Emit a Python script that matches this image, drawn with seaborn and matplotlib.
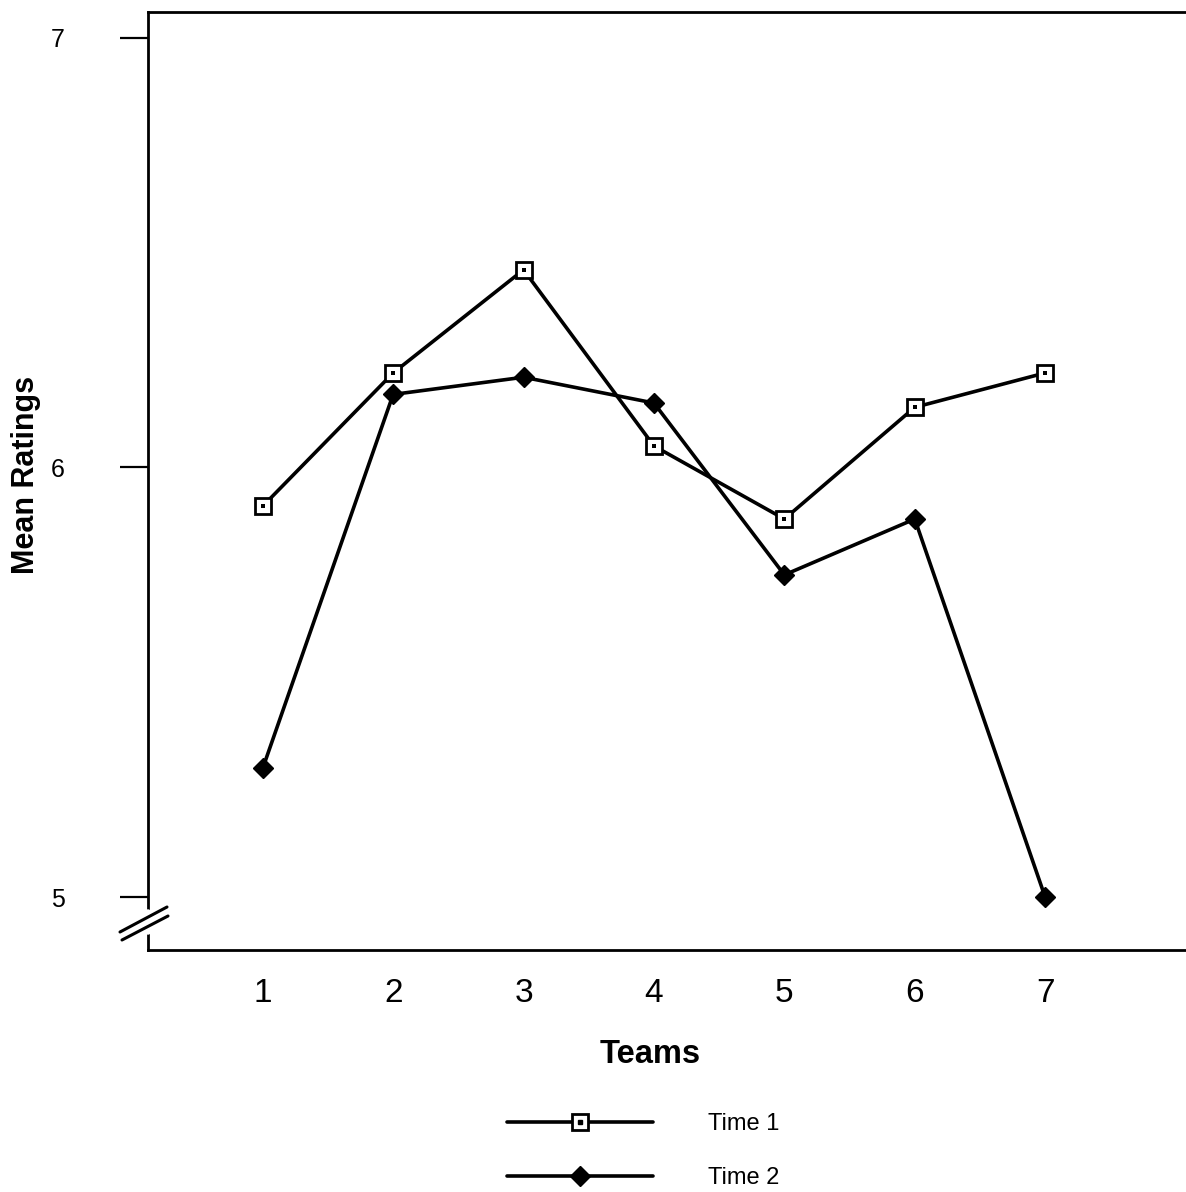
import numpy as np
import pandas as pd
import seaborn as sns
import matplotlib.pyplot as plt
from matplotlib.lines import Line2D

teams = [1, 2, 3, 4, 5, 6, 7]
time1 = [5.91, 6.22, 6.46, 6.05, 5.88, 6.14, 6.22]
time2 = [5.30, 6.17, 6.21, 6.15, 5.75, 5.88, 5.00]
y_ticks = [5, 6, 7]
labels = ["Time 1", "Time 2"]

sns.set_theme(style="white")
plt.rcParams["font.family"] = ["Liberation Sans", "DejaVu Sans"]
plt.rcParams["text.color"] = "black"
plt.rcParams["axes.labelcolor"] = "black"
plt.rcParams["xtick.color"] = "black"
plt.rcParams["ytick.color"] = "black"

fig = plt.figure(figsize=(11.86, 11.92), dpi=100)
ax = fig.add_axes([148 / 1186, 242 / 1192, 1038 / 1186, 938 / 1192])

lw = 2.6
sns.lineplot(x=teams, y=time1, ax=ax, color="black", linewidth=lw,
             marker="s", markersize=11, markerfacecolor="white",
             markeredgecolor="black", markeredgewidth=2.0, zorder=3)
sns.scatterplot(x=teams, y=time1, ax=ax, marker="s", s=6, color="black",
                linewidth=0, zorder=4)
sns.lineplot(x=teams, y=time2, ax=ax, color="black", linewidth=lw,
             marker="D", markersize=10, markerfacecolor="black",
             markeredgecolor="black", markeredgewidth=1.0, zorder=3)

ax.set_xlim(0.12, 8.08)
ax.set_ylim(4.877, 7.06)
ax.set_xticks(teams)
ax.set_xticklabels([str(t) for t in teams], fontsize=24)
ax.set_yticks(y_ticks)
ax.set_yticklabels([str(t) for t in y_ticks], fontsize=18)
ax.tick_params(axis="x", length=0, pad=20, labelcolor="black")
ax.tick_params(axis="y", length=20, width=1.6, color="black", pad=40,
               direction="out", left=True, labelcolor="black")

for s in ["left", "top", "bottom"]:
    ax.spines[s].set_color("black")
    ax.spines[s].set_linewidth(2.0)
ax.spines["right"].set_visible(False)

fx = lambda px: (px - 148) / 1038
fy = lambda py: (950 - py) / 938

ax.set_xlabel("Teams", fontsize=23.5, fontweight="bold", labelpad=22,
              color="black")
ax.set_ylabel("Mean Ratings", fontsize=22, fontweight="bold", labelpad=7,
              color="black")
ax.xaxis.label.set_x(fx(650))
ax.yaxis.label.set_y(fy(475))

# axis break marks
ax.plot([0, 0], [fy(932), fy(912)], transform=ax.transAxes, color="white",
        linewidth=4, clip_on=False, zorder=5)
ax.plot([fx(120), fx(167)], [fy(932), fy(907)], transform=ax.transAxes,
        color="black", linewidth=2.2, clip_on=False, zorder=6)
ax.plot([fx(122), fx(168)], [fy(940), fy(916)], transform=ax.transAxes,
        color="black", linewidth=2.2, clip_on=False, zorder=6)

h1 = Line2D([], [], color="black", linewidth=lw, marker="s", markersize=11,
            markerfacecolor="white", markeredgecolor="black", markeredgewidth=2.0)
h1dot = Line2D([], [], linestyle="none", marker="s", markersize=2.2, color="black")
h2 = Line2D([], [], color="black", linewidth=lw, marker="D", markersize=10,
            markerfacecolor="black", markeredgecolor="black")
fig.legend([(h1, h1dot), h2], labels, loc="upper left",
           bbox_to_anchor=(507 / 1186, 1 - 1113 / 1192), frameon=False,
           fontsize=17, handlelength=6.2, handletextpad=2.3, labelspacing=1.35,
           borderaxespad=0, borderpad=0, labelcolor="black")

fig.savefig("out.png", dpi=100, facecolor="white")
